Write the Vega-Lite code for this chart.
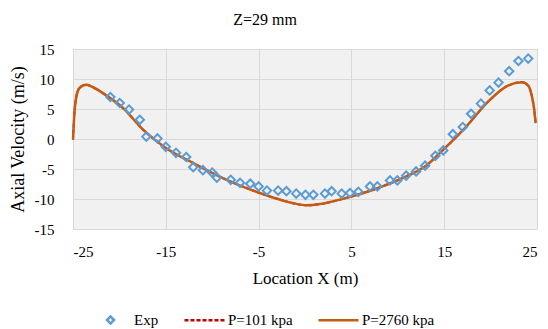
{
  "$schema": "https://vega.github.io/schema/vega-lite/v6.json",
  "width": 464,
  "height": 180,
  "autosize": "none",
  "padding": {"left": 73, "top": 49, "right": 11, "bottom": 100},
  "background": "white",
  "title": {"text": "Z=29 mm", "font": "Liberation Serif", "fontSize": 16, "fontWeight": "normal", "color": "#000000", "frame": "group", "anchor": "middle", "dx": -40, "offset": 14},
  "config": {
    "view": {"fill": "#f1f1f1", "stroke": "#d9d9d9", "strokeWidth": 1},
    "font": "Liberation Serif"
  },
  "datasets": {
    "exp": [
      {"x": -20.97, "y": 7.0}, {"x": -19.96, "y": 6.0}, {"x": -18.96, "y": 4.9}, {"x": -17.8, "y": 3.2},
      {"x": -17.1, "y": 0.4}, {"x": -15.9, "y": 0.1}, {"x": -15.0, "y": -1.3}, {"x": -13.9, "y": -2.3},
      {"x": -12.8, "y": -3.0}, {"x": -12.05, "y": -4.7}, {"x": -11.0, "y": -5.2}, {"x": -10.0, "y": -5.6},
      {"x": -9.5, "y": -6.45}, {"x": -8.0, "y": -6.8}, {"x": -7.0, "y": -7.3}, {"x": -5.9, "y": -7.45},
      {"x": -5.0, "y": -7.9}, {"x": -4.1, "y": -8.6}, {"x": -2.9, "y": -8.6}, {"x": -2.0, "y": -8.7},
      {"x": -0.95, "y": -9.1}, {"x": 0.05, "y": -9.3}, {"x": 0.9, "y": -9.3}, {"x": 2.15, "y": -9.1},
      {"x": 2.87, "y": -8.7}, {"x": 3.95, "y": -9.1}, {"x": 4.85, "y": -9.0}, {"x": 5.75, "y": -8.8},
      {"x": 7.0, "y": -7.9}, {"x": 7.8, "y": -7.9}, {"x": 9.16, "y": -6.9}, {"x": 9.95, "y": -6.9},
      {"x": 10.9, "y": -6.1}, {"x": 11.97, "y": -5.4}, {"x": 12.94, "y": -4.45}, {"x": 14.05, "y": -2.8},
      {"x": 14.9, "y": -1.9}, {"x": 15.93, "y": 0.8}, {"x": 17.0, "y": 2.0}, {"x": 17.9, "y": 4.2},
      {"x": 18.95, "y": 5.9}, {"x": 19.9, "y": 8.1}, {"x": 20.85, "y": 9.4}, {"x": 22.0, "y": 11.3},
      {"x": 23.0, "y": 13.0}, {"x": 24.05, "y": 13.4}
    ],
    "sim": [
      {"x": -25.0, "y": -0.1}, {"x": -24.85, "y": 4.3}, {"x": -24.67, "y": 6.8}, {"x": -24.3, "y": 8.5},
      {"x": -23.6, "y": 9.05}, {"x": -22.7, "y": 8.5}, {"x": -21.25, "y": 7.1}, {"x": -19.5, "y": 5.0},
      {"x": -17.45, "y": 1.55}, {"x": -15.0, "y": -1.5}, {"x": -12.05, "y": -4.0}, {"x": -8.45, "y": -6.8},
      {"x": -4.86, "y": -9.0}, {"x": -2.5, "y": -10.2}, {"x": -1.27, "y": -10.7}, {"x": 0.17, "y": -11.05},
      {"x": 1.6, "y": -10.85}, {"x": 3.77, "y": -10.1}, {"x": 7.36, "y": -8.45}, {"x": 10.96, "y": -6.2},
      {"x": 13.0, "y": -4.5}, {"x": 14.55, "y": -2.3}, {"x": 17.07, "y": 1.55}, {"x": 19.95, "y": 6.55},
      {"x": 21.75, "y": 8.8}, {"x": 23.4, "y": 9.45}, {"x": 24.1, "y": 8.8}, {"x": 24.45, "y": 7.1},
      {"x": 24.7, "y": 4.9}, {"x": 24.85, "y": 2.65}
    ]
  },
  "encoding": {
    "x": {
      "field": "x", "type": "quantitative",
      "scale": {"domain": [-25, 25], "nice": false, "zero": false},
      "axis": {
        "title": "Location X (m)", "values": [-25, -15, -5, 5, 15, 25], "labelExpr": "toString(datum.value)", "labelOverlap": false,
        "grid": true, "gridColor": "#d9d9d9", "domain": false, "ticks": false,
        "labelFont": "Liberation Serif", "labelFontSize": 15, "labelColor": "#000000", "labelPadding": 15,
        "titleFont": "Liberation Serif", "titleFontSize": 17, "titleFontWeight": "normal", "titleColor": "#000000", "titlePadding": 11
      }
    },
    "y": {
      "field": "y", "type": "quantitative",
      "scale": {"domain": [-15, 15], "nice": false, "zero": false},
      "axis": {
        "title": "Axial Velocity (m/s)", "values": [-15, -10, -5, 0, 5, 10, 15], "labelExpr": "toString(datum.value)", "labelOverlap": false,
        "grid": true, "gridColor": "#d9d9d9", "domain": false, "ticks": false,
        "labelFont": "Liberation Serif", "labelFontSize": 15, "labelColor": "#000000", "labelPadding": 19,
        "titleFont": "Liberation Serif", "titleFontSize": 18, "titleFontWeight": "normal", "titleColor": "#000000", "titlePadding": 7
      }
    },
    "color": {
      "field": "series", "type": "nominal",
      "scale": {"domain": ["Exp", "P=101 kpa", "P=2760 kpa"], "range": ["#5B9BD5", "#C00000", "#C55A11"]},
      "legend": {
        "title": null, "orient": "none", "direction": "horizontal", "legendX": 16, "legendY": 249,
        "symbolSize": 1600, "symbolType": "stroke", "columnPadding": 20, "labelOffset": 2,
        "labelFont": "Liberation Serif", "labelFontSize": 15, "labelColor": "#000000",
        "encode": {
          "symbols": {
            "enter": {
              "shape": {"signal": "datum.value === 'Exp' ? 'diamond' : 'stroke'"},
              "size": {"signal": "datum.value === 'Exp' ? 50 : 1600"},
              "strokeWidth": {"value": 2.5},
              "strokeDash": {"signal": "datum.value === 'P=101 kpa' ? [4, 2] : [1, 0]"}
            },
            "update": {
              "shape": {"signal": "datum.value === 'Exp' ? 'diamond' : 'stroke'"},
              "size": {"signal": "datum.value === 'Exp' ? 50 : 1600"},
              "fill": {"value": "transparent"},
              "stroke": {"signal": "scale('color', datum.value)"},
              "strokeWidth": {"value": 2.5},
              "strokeDash": {"signal": "datum.value === 'P=101 kpa' ? [4, 2] : [1, 0]"},
              "opacity": {"value": 1}
            }
          }
        }
      }
    }
  },
  "layer": [
    {
      "data": {"name": "sim"},
      "transform": [{"calculate": "'P=101 kpa'", "as": "series"}],
      "mark": {"type": "line", "interpolate": "monotone", "strokeWidth": 2, "strokeDash": [4, 2]}
    },
    {
      "data": {"name": "sim"},
      "transform": [{"calculate": "'P=2760 kpa'", "as": "series"}],
      "mark": {"type": "line", "interpolate": "monotone", "strokeWidth": 2.5}
    },
    {
      "data": {"name": "exp"},
      "transform": [{"calculate": "'Exp'", "as": "series"}],
      "mark": {"type": "point", "shape": "diamond", "filled": false, "strokeWidth": 2, "size": 70, "opacity": 1}
    }
  ]
}
